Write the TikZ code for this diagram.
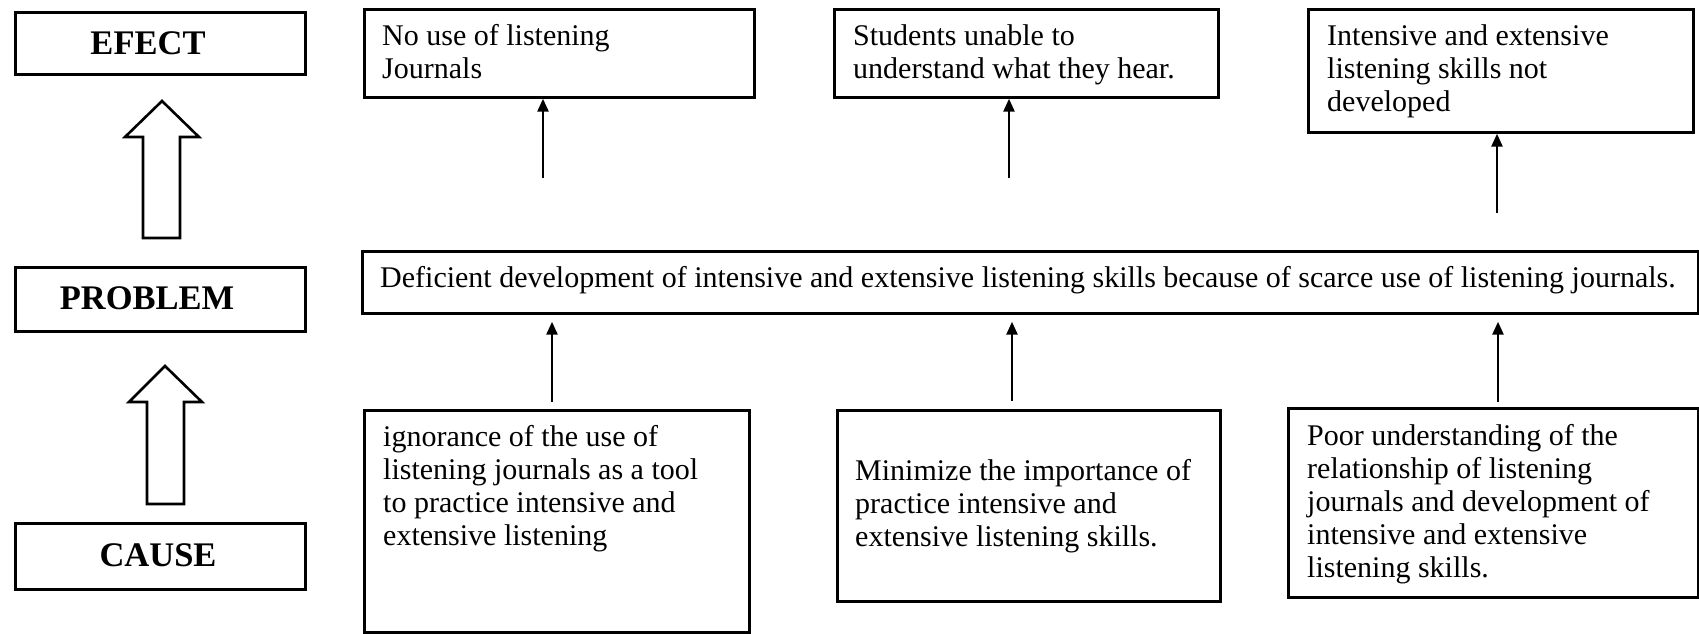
\documentclass[tikz,border=0pt]{standalone}
\usepackage{fontspec}
\setmainfont{Liberation Serif}
\usetikzlibrary{arrows.meta}
\begin{document}
\begin{tikzpicture}[x=1pt,y=-1pt,
  box/.style={draw, line width=2.7pt, rectangle, inner sep=0pt, anchor=north west},
  lbl/.style={font=\fontsize{34.5}{40}\selectfont\bfseries, inner sep=0pt},
  txt/.style={font=\fontsize{30}{33}\selectfont, align=left, inner sep=0pt, anchor=north west},
  conn/.style={line width=2.6pt, -{Triangle[length=13pt,width=11pt]}},
  hollow/.style={draw, line width=2.6pt, line join=miter, fill=white}]
\useasboundingbox[fill=white] (0,0) rectangle (1699,633);

% left labels
\node[box, minimum width=290pt, minimum height=62pt] (efectbox) at (14,11) {};
\node[lbl] (efect) at (148,43) {EFECT};
\node[box, minimum width=290pt, minimum height=64pt] (problembox) at (14,266) {};
\node[lbl] (problem) at (147,298) {PROBLEM};
\node[box, minimum width=290pt, minimum height=66pt] (causebox) at (14,522) {};
\node[lbl] (cause) at (158,555) {CAUSE};

% hollow block arrows
\draw[hollow] (162,101) -- (199,137) -- (180,137) -- (180,238) -- (143,238) -- (143,137) -- (125,137) -- cycle;
\draw[hollow] (165,366) -- (202,402) -- (184,402) -- (184,504) -- (147,504) -- (147,402) -- (129,402) -- cycle;

% effect boxes
\node[box, minimum width=390pt, minimum height=88pt] (b1) at (363,8) {};
\node[txt] (t1) at (382,22) {\strut No use of listening\\Journals};
\node[box, minimum width=384pt, minimum height=88pt] (b2) at (833,8) {};
\node[txt] (t2) at (853,22) {\strut Students unable to\\understand what they hear.};
\node[box, minimum width=385pt, minimum height=123pt] (b3) at (1307,8) {};
\node[txt] (t3) at (1327,22) {\strut Intensive and extensive\\listening skills not\\developed};

% problem box
\node[box, minimum width=1336pt, minimum height=62pt] (bp) at (361,250) {};
\node[txt] (tp) at (380,264) {\strut Deficient development of intensive and extensive listening skills because of scarce use of listening journals.};

% cause boxes
\node[box, minimum width=385pt, minimum height=222pt] (c1) at (363,409) {};
\node[txt] (tc1) at (383,423) {\strut ignorance of the use of\\listening journals as a tool\\to practice intensive and\\extensive listening};
\node[box, minimum width=383pt, minimum height=191pt] (c2) at (836,409) {};
\node[txt] (tc2) at (855,457) {\strut Minimize the importance of\\practice intensive and\\extensive listening skills.};
\node[box, minimum width=410pt, minimum height=189pt] (c3) at (1287,407) {};
\node[txt] (tc3) at (1307,422) {\strut Poor understanding of the\\relationship of listening\\journals and development of\\intensive and extensive\\listening skills.};

% arrow tails
\coordinate (e1) at (543,178);
\coordinate (e2) at (1009,178);
\coordinate (e3) at (1497,213);
\coordinate (k1) at (552,402);
\coordinate (k2) at (1012,401);
\coordinate (k3) at (1498,402);

\draw[conn] (e1) -- (e1 |- b1.south);
\draw[conn] (e2) -- (e2 |- b2.south);
\draw[conn] (e3) -- (e3 |- b3.south);
\draw[conn, shorten >=7pt] (k1) -- (k1 |- bp.south);
\draw[conn, shorten >=7pt] (k2) -- (k2 |- bp.south);
\draw[conn, shorten >=7pt] (k3) -- (k3 |- bp.south);
\end{tikzpicture}
\end{document}
